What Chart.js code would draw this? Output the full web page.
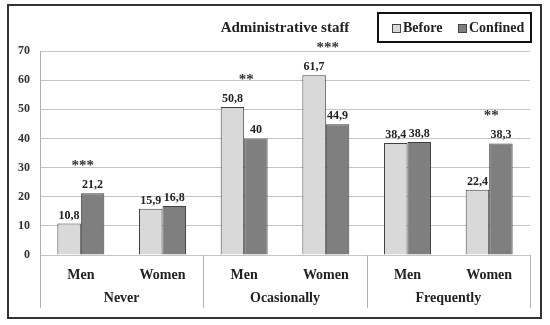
<!DOCTYPE html>
<html><head><meta charset="utf-8">
<script src="https://cdn.jsdelivr.net/npm/chart.js@4.4.0/dist/chart.umd.min.js"></script>
<style>
html,body{margin:0;padding:0;background:#fff;}
#wrap{position:relative;width:550px;height:325px;}
#frame{position:absolute;left:7px;top:4px;width:535px;height:315px;box-sizing:border-box;border:2px solid #333;pointer-events:none;}
canvas{position:absolute;left:0;top:0;}
</style></head><body>
<div id="wrap"><canvas id="c" width="550" height="325"></canvas><div id="frame"></div></div>
<script>
const subgroups = ['Men','Women','Men','Women','Men','Women'];
const groups = ['Never','Ocasionally','Frequently'];
const before = [10.8,15.9,50.8,61.7,38.4,22.4];
const confined = [21.2,16.8,40,44.9,38.8,38.3];
const significance = ['***','','**','***','','**'];
const seriesNames = ['Before','Confined'];
const titleText = 'Administrative staff';
const yMin = 0, yMax = 70, yStep = 10;

const SERIF = "'Liberation Serif','DejaVu Serif',serif";
const colors = ['#d9d9d9','#7f7f7f'];

const fmt = v => String(v).replace('.', ',');

const overlay = {
  id: 'overlay',
  afterDraw(chart) {
    const ctx = chart.ctx;
    const xs = chart.scales.x;
    const area = chart.chartArea;
    ctx.save();
    // data labels
    ctx.fillStyle = '#222';
    ctx.font = 'bold 12px ' + SERIF;
    ctx.textAlign = 'center';
    ctx.textBaseline = 'alphabetic';
    chart.data.datasets.forEach((ds, di) => {
      const meta = chart.getDatasetMeta(di);
      meta.data.forEach((bar, i) => {
        ctx.fillText(fmt(ds.data[i]), bar.x, bar.y - 5);
      });
    });
    // significance stars
    ctx.font = 'bold 15px ' + SERIF;
    ctx.fillStyle = '#333';
    significance.forEach((s, i) => {
      if (!s) return;
      const top = Math.min(chart.getDatasetMeta(0).data[i].y, chart.getDatasetMeta(1).data[i].y);
      ctx.fillText(s, xs.getPixelForValue(i) + 2, top - 23);
    });
    // group separators
    ctx.strokeStyle = '#b0b0b0';
    ctx.lineWidth = 1;
    const n = subgroups.length, per = n / groups.length;
    const bounds = [];
    for (let g = 0; g <= groups.length; g++) {
      let px;
      if (g === 0) px = area.left;
      else if (g === groups.length) px = area.right;
      else px = (xs.getPixelForValue(g * per - 1) + xs.getPixelForValue(g * per)) / 2;
      bounds.push(px);
      ctx.beginPath();
      ctx.moveTo(Math.round(px) + 0.5, area.bottom);
      ctx.lineTo(Math.round(px) + 0.5, area.bottom + 53);
      ctx.stroke();
    }
    // group labels
    ctx.fillStyle = '#222';
    ctx.font = 'bold 14px ' + SERIF;
    ctx.textBaseline = 'middle';
    groups.forEach((g, gi) => {
      ctx.fillText(g, (bounds[gi] + bounds[gi + 1]) / 2, area.bottom + 43);
    });
    // title
    ctx.font = 'bold 15px ' + SERIF;
    ctx.fillText(titleText, 285, 28);
    // legend
    ctx.strokeStyle = '#111';
    ctx.lineWidth = 2;
    ctx.strokeRect(378, 13, 153, 29);
    ctx.font = 'bold 14px ' + SERIF;
    ctx.textAlign = 'left';
    const lx = [392, 458];
    seriesNames.forEach((s, i) => {
      ctx.fillStyle = colors[i];
      ctx.fillRect(lx[i], 24, 8, 8);
      ctx.strokeStyle = '#444';
      ctx.lineWidth = 1;
      ctx.strokeRect(lx[i] + 0.5, 24.5, 8, 8);
      ctx.fillStyle = '#222';
      ctx.fillText(s, lx[i] + 11, 28);
    });
    ctx.restore();
  }
};

new Chart(document.getElementById('c'), {
  type: 'bar',
  data: {
    labels: subgroups,
    datasets: seriesNames.map((name, i) => ({
      label: name,
      data: i === 0 ? before : confined,
      backgroundColor: colors[i],
      borderColor: '#404040',
      borderWidth: 1,
      categoryPercentage: 0.575,
      barPercentage: 1
    }))
  },
  options: {
    responsive: false,
    animation: false,
    devicePixelRatio: 1,
    layout: { padding: { top: 51, right: 20, bottom: 15, left: 0 } },
    plugins: { legend: { display: false }, title: { display: false }, tooltip: { enabled: false } },
    scales: {
      y: {
        min: yMin, max: yMax,
        ticks: { stepSize: yStep, font: { family: SERIF, size: 12, weight: 'bold' }, color: '#333', padding: 10 },
        grid: { color: '#c4c4c4', drawTicks: false },
        border: { color: '#b0b0b0' },
        afterFit: s => { s.width = 40; }
      },
      x: {
        ticks: { font: { family: SERIF, size: 14, weight: 'bold' }, color: '#222', padding: 4 },
        grid: { display: false },
        border: { display: false },
        afterFit: s => { s.height = 55; }
      }
    }
  },
  plugins: [overlay]
});
</script>
</body></html>
